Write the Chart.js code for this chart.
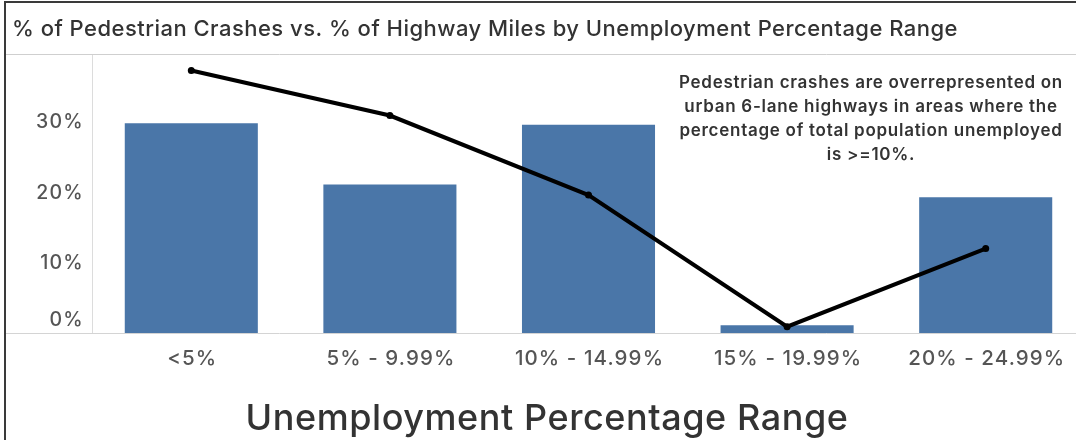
<!DOCTYPE html>
<html>
<head>
<meta charset="utf-8">
<script src="https://cdn.jsdelivr.net/npm/chart.js@4.4.1/dist/chart.umd.min.js"></script>
<style>
  html, body { margin: 0; padding: 0; background: #fff; overflow: hidden; }
  #wrap { position: relative; width: 1076px; height: 440px; overflow: hidden; }
  #chart { position: absolute; left: 0; top: 0; }
</style>
</head>
<body>
<div id="wrap"><canvas id="chart" width="1100" height="440"></canvas></div>
<script>
const categories = ['<5%', '5% - 9.99%', '10% - 14.99%', '15% - 19.99%', '20% - 24.99%']
const highwayMiles = [29.8, 21.1, 29.6, 1.1, 19.3]
const pedCrashes = [37.3, 30.9, 19.6, 0.9, 12.0]
const yTicks = [0, 10, 20, 30]

const TITLE = '% of Pedestrian Crashes vs. % of Highway Miles by Unemployment Percentage Range'
const AXIS_TITLE = 'Unemployment Percentage Range'
const NOTE = [
  'Pedestrian crashes are overrepresented on',
  'urban 6-lane highways in areas where the',
  'percentage of total population unemployed',
  'is >=10%.'
]
const FONT = 'Inter, "Open Sans", sans-serif'

// sets the font, then spreads letters so `sample` comes out `target` px wide
function setFont(ctx, weight, size, sample, target) {
  ctx.font = weight + ' ' + size + 'px ' + FONT
  ctx.letterSpacing = '0px'
  const w = ctx.measureText(sample).width
  ctx.letterSpacing = ((target - w) / sample.length) + 'px'
}

// frame, title, tick labels, zero line, note and axis title
const decorations = {
  id: 'decorations',
  beforeDraw(chart) {
    const ctx = chart.ctx
    ctx.save()
    ctx.fillStyle = '#fff'
    ctx.fillRect(0, 0, chart.width, chart.height)
    ctx.restore()
  },
  afterDatasetsDraw(chart) {
    const ctx = chart.ctx
    const area = chart.chartArea
    const x = chart.scales.x
    const y = chart.scales.y
    ctx.save()

    // zero baseline across the whole width
    const y0 = Math.round(y.getPixelForValue(0)) + 0.5
    ctx.strokeStyle = '#d4d4d4'
    ctx.lineWidth = 1
    ctx.beginPath()
    ctx.moveTo(6, y0)
    ctx.lineTo(chart.width, y0)
    ctx.stroke()

    // title + separator
    ctx.fillStyle = '#333'
    ctx.textAlign = 'left'
    ctx.textBaseline = 'alphabetic'
    setFont(ctx, 500, 22, TITLE, 946)
    ctx.fillText(TITLE, 12, 36)
    ctx.strokeStyle = '#cfcfcf'
    ctx.beginPath()
    ctx.moveTo(6, 54.5)
    ctx.lineTo(chart.width, 54.5)
    ctx.stroke()

    // y tick labels, bottom one kept inside the pane
    ctx.fillStyle = '#555'
    ctx.textAlign = 'right'
    setFont(ctx, 500, 19.5, '30%', 48)
    yTicks.forEach(v => {
      let py = y.getPixelForValue(v) + 6.5
      if (py > area.bottom - 7) py = area.bottom - 7
      ctx.fillText(v + '%', 84, py)
    })

    // category labels
    ctx.textAlign = 'center'
    setFont(ctx, 500, 20.5, '5% - 9.99%', 129)
    categories.forEach((c, i) => ctx.fillText(c, x.getPixelForValue(i) + 1, 365))

    // annotation
    ctx.fillStyle = '#333'
    setFont(ctx, 600, 17, NOTE[0], 384)
    NOTE.forEach((line, i) => ctx.fillText(line, 871, 88 + i * 24))

    // x axis title
    setFont(ctx, 500, 36, AXIS_TITLE, 603)
    ctx.fillStyle = '#333'
    ctx.fillText(AXIS_TITLE, 547, 430)

    // outer frame
    ctx.letterSpacing = '0px'
    ctx.strokeStyle = '#3a3a3a'
    ctx.lineWidth = 2
    ctx.beginPath()
    ctx.moveTo(5, chart.height)
    ctx.lineTo(5, 2)
    ctx.lineTo(chart.width, 2)
    ctx.stroke()
    ctx.restore()
  }
}

new Chart(document.getElementById('chart'), {
  data: {
    labels: categories,
    datasets: [
      {
        type: 'line',
        label: '% of Pedestrian Crashes',
        data: pedCrashes,
        borderColor: '#000',
        borderWidth: 4,
        pointRadius: 3.5,
        pointBackgroundColor: '#000',
        pointBorderWidth: 0,
        tension: 0,
        order: 0
      },
      {
        type: 'bar',
        label: '% of Highway Miles',
        data: highwayMiles,
        backgroundColor: '#4a76a8',
        barPercentage: 0.67,
        categoryPercentage: 1,
        order: 1
      }
    ]
  },
  options: {
    responsive: false,
    animation: false,
    layout: { padding: { top: 55, right: 15, left: 0, bottom: 0 } },
    plugins: { legend: { display: false }, tooltip: { enabled: false } },
    scales: {
      x: {
        offset: true,
        grid: { display: false, drawTicks: false },
        border: { display: false },
        ticks: { display: false },
        afterFit: s => { s.height = 107 }
      },
      y: {
        min: 0,
        max: 39.5,
        grid: { display: false },
        border: { display: true, color: '#dcdcdc' },
        ticks: { display: false, stepSize: 10 },
        afterFit: s => { s.width = 92 }
      }
    }
  },
  plugins: [decorations]
})
</script>
</body>
</html>
